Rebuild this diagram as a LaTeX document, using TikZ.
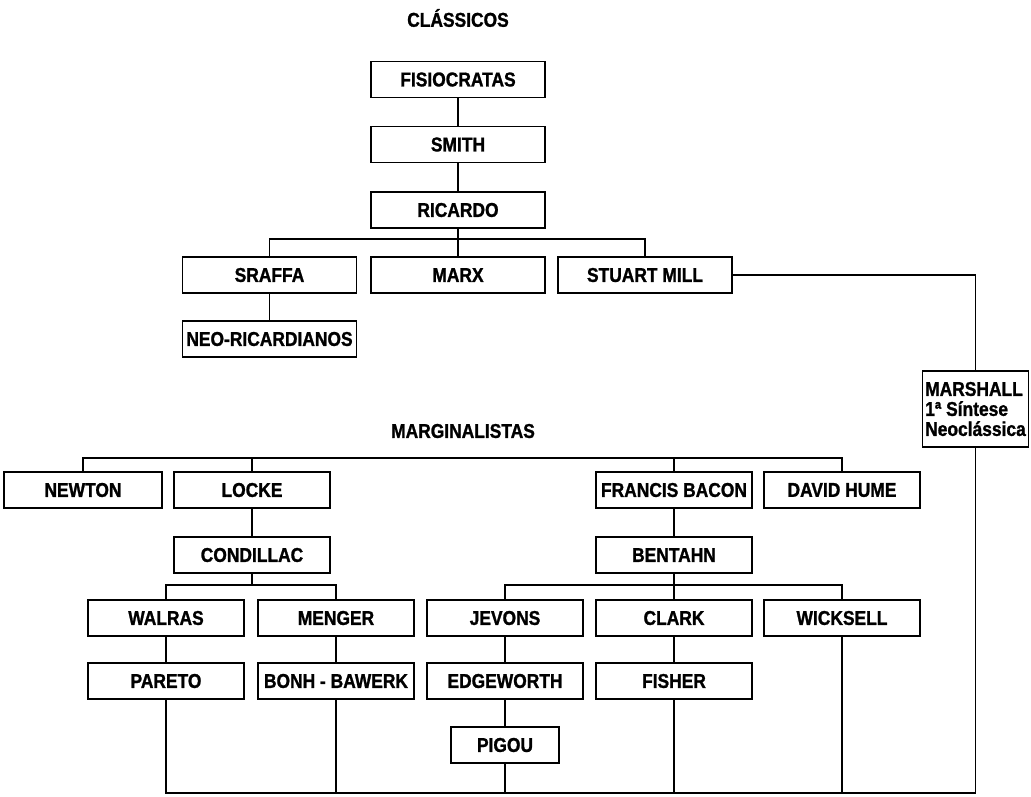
\documentclass[tikz,border=0pt]{standalone}
\usepackage{fontspec}
\setmainfont{Liberation Sans}[FakeStretch=0.87, BoldFeatures={FakeBold=1.2}]
\begin{document}
\begin{tikzpicture}[x=1pt,y=-1pt,
  every node/.style={font=\fontsize{20}{20}\selectfont\bfseries},
  box/.style={draw, line width=1.8pt, minimum width=174pt, minimum height=36pt, inner sep=1pt, anchor=center},
  sbox/.style={box, minimum width=156pt},
  ttl/.style={inner sep=0pt},
  conn/.style={line width=1.5pt}]
\fill[white] (0,0) rectangle (1031,796);
\useasboundingbox (0,0) rectangle (1031,796);
% Clássicos
\node[ttl] (tc) at (458,18) {CLÁSSICOS};
\node[box] (fisio) at (458,79.5) {FISIOCRATAS};
\node[box] (smith) at (458,144.5) {SMITH};
\node[box] (ric) at (458,210) {RICARDO};
\node[box] (sra) at (269.5,275) {SRAFFA};
\node[box] (marx) at (458,275) {MARX};
\node[box] (stu) at (645,275) {STUART MILL};
\node[box] (neo) at (269.5,339) {NEO-RICARDIANOS};
\node[draw, line width=1.8pt, minimum width=106pt, minimum height=76pt, inner sep=2pt, align=left] (msh) at (975.5,409) {MARSHALL\\1ª Síntese\\Neoclássica};
% Marginalistas
\node[ttl] (tm) at (463,431) {MARGINALISTAS};
\node[sbox, minimum width=158pt] (newton) at (83,490) {NEWTON};
\node[sbox] (locke) at (252,490) {LOCKE};
\node[sbox] (bacon) at (674,490) {FRANCIS BACON};
\node[sbox] (hume) at (842,490) {DAVID HUME};
\node[sbox] (cond) at (252,555) {CONDILLAC};
\node[sbox] (bent) at (674,555) {BENTAHN};
\node[sbox] (walras) at (166,618) {WALRAS};
\node[sbox] (menger) at (336,618) {MENGER};
\node[sbox] (jevons) at (505,618) {JEVONS};
\node[sbox] (clark) at (674,618) {CLARK};
\node[sbox] (wick) at (842,618) {WICKSELL};
\node[sbox] (pareto) at (166,681) {PARETO};
\node[sbox] (bonh) at (336,681) {BONH - BAWERK};
\node[sbox] (edge) at (505,681) {EDGEWORTH};
\node[sbox] (fisher) at (674,681) {FISHER};
\node[sbox, minimum width=108pt] (pigou) at (505,745) {PIGOU};
% coordinates
\coordinate (cs) at (458,239);
\coordinate (mt) at (842,458);
\coordinate (ls) at (252,585);
\coordinate (bs) at (674,585);
\coordinate (bot) at (975.5,793);
% connectors classicos
\draw[conn] (fisio) -- (smith);
\draw[conn] (smith) -- (ric);
\draw[conn] (ric.south) -- (cs);
\draw[conn] (sra.north) |- (cs) -| (stu.north);
\draw[conn] (cs) -- (marx.north);
\draw[conn] (sra) -- (neo);
\draw[conn] (stu.east) -| (msh.north);
% connectors marginalistas
\draw[conn] (newton.north) |- (mt) -- (hume.north);
\draw[conn] (locke.north) -- (locke.north |- mt);
\draw[conn] (bacon.north) -- (bacon.north |- mt);
\draw[conn] (locke) -- (cond);
\draw[conn] (bacon) -- (bent);
\draw[conn] (cond.south) -- (ls);
\draw[conn] (walras.north) |- (ls) -| (menger.north);
\draw[conn] (bent.south) -- (bs);
\draw[conn] (jevons.north) |- (bs) -| (wick.north);
\draw[conn] (bs) -- (clark.north);
\draw[conn] (walras) -- (pareto);
\draw[conn] (menger) -- (bonh);
\draw[conn] (jevons) -- (edge);
\draw[conn] (edge) -- (pigou);
\draw[conn] (clark) -- (fisher);
% bottom
\draw[conn] (pareto.south) |- (bot) -- (msh.south);
\draw[conn] (bonh.south) -- (bonh.south |- bot);
\draw[conn] (pigou.south) -- (pigou.south |- bot);
\draw[conn] (fisher.south) -- (fisher.south |- bot);
\draw[conn] (wick.south) -- (wick.south |- bot);
\end{tikzpicture}
\end{document}
